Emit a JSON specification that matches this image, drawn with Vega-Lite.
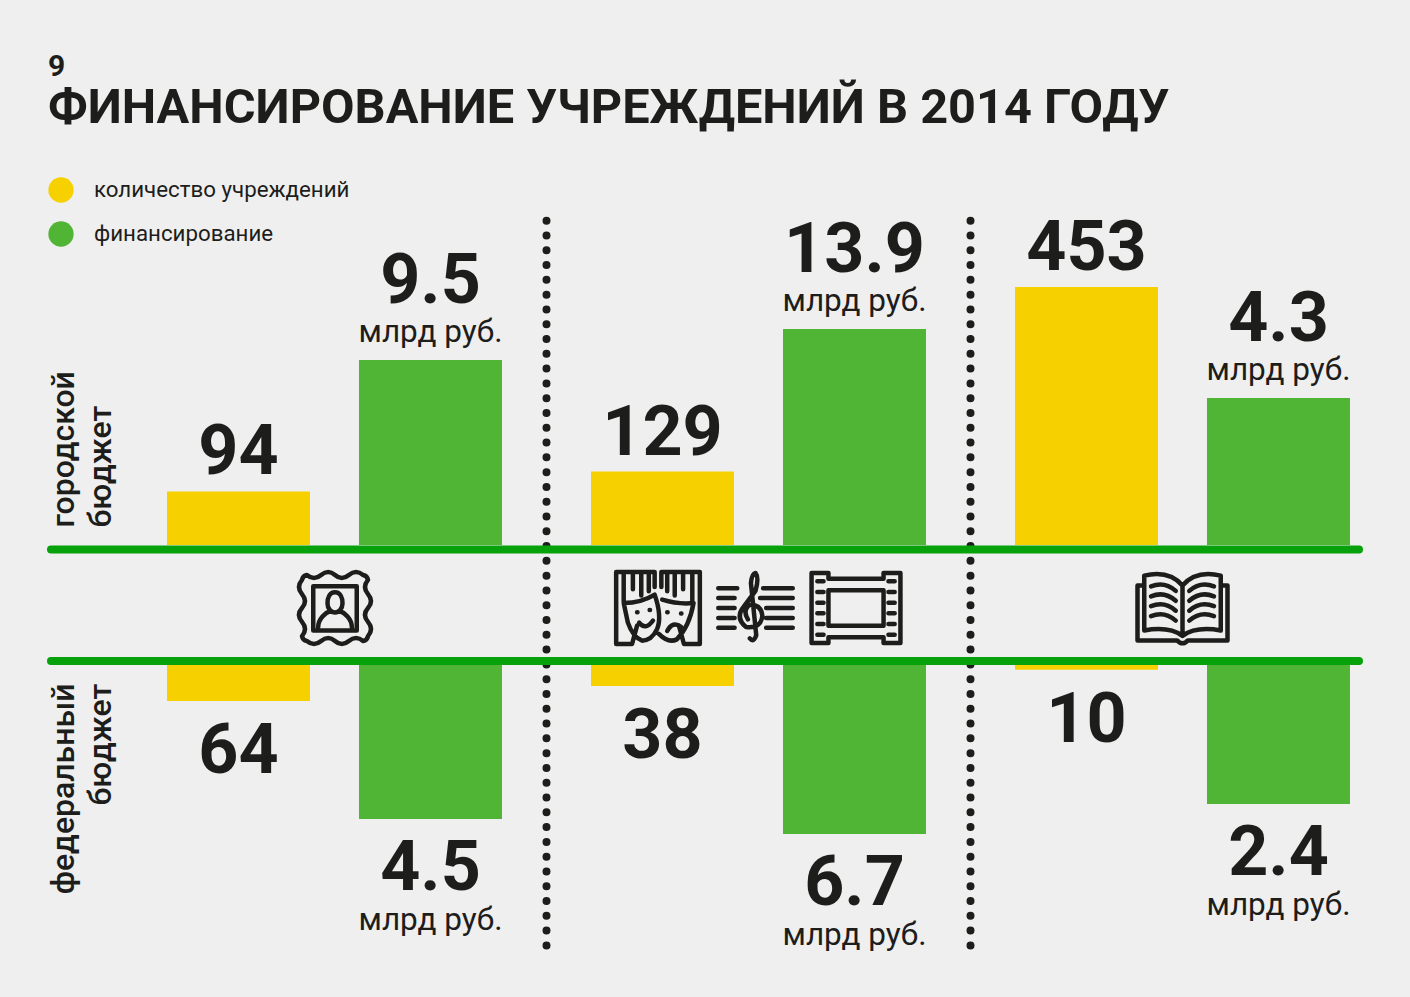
{
"$schema":"https://vega.github.io/schema/vega-lite/v6.json",
"width":1410,"height":857,
"autosize":{"type":"none"},
"padding":{"left":0,"top":140,"right":0,"bottom":0},
"background":"#efefef",
"config":{"view":{"stroke":null},"font":"Roboto"},
"title":{"text":"9","subtitle":"ФИНАНСИРОВАНИЕ УЧРЕЖДЕНИЙ В 2014 ГОДУ","anchor":"start","frame":"group","dx":48,"offset":7,"font":"Roboto","fontSize":30,"fontWeight":"bold","color":"#1d1d1b","subtitleFont":"Roboto","subtitleFontSize":48.7,"subtitleFontWeight":"bold","subtitleColor":"#1d1d1b","subtitlePadding":3},
"datasets":{"rows":[
{"group":"museums","budget":"city","metric":"количество учреждений","value":94},
{"group":"museums","budget":"city","metric":"финансирование","value":9.5,"unit":"млрд руб."},
{"group":"performing","budget":"city","metric":"количество учреждений","value":129},
{"group":"performing","budget":"city","metric":"финансирование","value":13.9,"unit":"млрд руб."},
{"group":"libraries","budget":"city","metric":"количество учреждений","value":453},
{"group":"libraries","budget":"city","metric":"финансирование","value":4.3,"unit":"млрд руб."},
{"group":"museums","budget":"federal","metric":"количество учреждений","value":64},
{"group":"museums","budget":"federal","metric":"финансирование","value":4.5,"unit":"млрд руб."},
{"group":"performing","budget":"federal","metric":"количество учреждений","value":38},
{"group":"performing","budget":"federal","metric":"финансирование","value":6.7,"unit":"млрд руб."},
{"group":"libraries","budget":"federal","metric":"количество учреждений","value":10},
{"group":"libraries","budget":"federal","metric":"финансирование","value":2.4,"unit":"млрд руб."}
]},
"resolve":{"scale":{"x":"independent","y":"independent"}},
"layer":[
{"data":{"name":"rows"},"transform":[{"filter":"datum.budget==='city'&&datum.metric==='количество учреждений'"}],
 "encoding":{
  "x":{"field":"group","type":"nominal","axis":null,"scale":{"domain":["museums","performing","libraries"],"range":[122.5,1394.5],"padding":0}},
  "xOffset":{"field":"metric","type":"nominal","scale":{"domain":["количество учреждений","финансирование"],"paddingInner":0.2552,"paddingOuter":0.2318}},
  "y":{"field":"value","type":"quantitative","scale":{"domain":[0,453],"range":[405,147]},"axis":{"orient":"left","domain":false,"ticks":false,"labels":false,"grid":false,"title":["городской","бюджет"],"titleFont":"Roboto","titleFontSize":32,"titleFontWeight":500,"titleColor":"#1d1d1b","titleAngle":270,"titleAlign":"left","titleBaseline":"alphabetic","titleLineHeight":36.5,"titleX":73.5,"titleY":387}}
 },
 "layer":[
  {"mark":{"type":"bar"},"encoding":{"y2":{"datum":0},"color":{"field":"metric","type":"nominal","scale":{"domain":["количество учреждений","финансирование"],"range":["#f7d000","#50b535"]},"legend":{"orient":"none","legendX":48,"legendY":37,"title":null,"symbolType":"circle","symbolSize":640,"labelFont":"Roboto","labelFontSize":22.3,"labelColor":"#1d1d1b","labelOffset":20,"labelLimit":400,"rowPadding":18,"symbolStrokeWidth":0}}}},
  {"mark":{"type":"text","fontSize":70,"fontWeight":"bold","color":"#1d1d1b","baseline":"alphabetic","dy":-17},"encoding":{"text":{"field":"value","type":"quantitative","format":"d"}}}
 ]},
{"data":{"name":"rows"},"transform":[{"filter":"datum.budget==='city'&&datum.metric==='финансирование'"}],
 "encoding":{
  "x":{"field":"group","type":"nominal","axis":null,"scale":{"domain":["museums","performing","libraries"],"range":[122.5,1394.5],"padding":0}},
  "xOffset":{"field":"metric","type":"nominal","scale":{"domain":["количество учреждений","финансирование"],"paddingInner":0.2552,"paddingOuter":0.2318}},
  "y":{"field":"value","type":"quantitative","axis":null,"scale":{"domain":[0,4.3,9.5,13.9],"range":[405,258,220,189]}}
 },
 "layer":[
  {"mark":{"type":"bar"},"encoding":{"y2":{"datum":0},"color":{"field":"metric","type":"nominal","scale":{"domain":["количество учреждений","финансирование"],"range":["#f7d000","#50b535"]}}}},
  {"mark":{"type":"text","fontSize":70,"fontWeight":"bold","color":"#1d1d1b","baseline":"alphabetic","dy":-57},"encoding":{"text":{"field":"value","type":"quantitative","format":".1f"}}},
  {"mark":{"type":"text","fontSize":31.5,"color":"#1d1d1b","baseline":"alphabetic","dy":-18},"encoding":{"text":{"field":"unit","type":"nominal"}}}
 ]},
{"data":{"name":"rows"},"transform":[{"filter":"datum.budget==='federal'&&datum.metric==='количество учреждений'"}],
 "encoding":{
  "x":{"field":"group","type":"nominal","axis":null,"scale":{"domain":["museums","performing","libraries"],"range":[122.5,1394.5],"padding":0}},
  "xOffset":{"field":"metric","type":"nominal","scale":{"domain":["количество учреждений","финансирование"],"paddingInner":0.2552,"paddingOuter":0.2318}},
  "y":{"field":"value","type":"quantitative","scale":{"domain":[0,64],"range":[524,561]},"axis":{"orient":"left","domain":false,"ticks":false,"labels":false,"grid":false,"title":["федеральный","бюджет"],"titleFont":"Roboto","titleFontSize":32,"titleFontWeight":500,"titleColor":"#1d1d1b","titleAngle":270,"titleAlign":"right","titleBaseline":"alphabetic","titleLineHeight":36.5,"titleX":73.5,"titleY":543}}
 },
 "layer":[
  {"mark":{"type":"bar"},"encoding":{"y2":{"datum":0},"color":{"field":"metric","type":"nominal","scale":{"domain":["количество учреждений","финансирование"],"range":["#f7d000","#50b535"]}}}},
  {"mark":{"type":"text","fontSize":70,"fontWeight":"bold","color":"#1d1d1b","baseline":"alphabetic","dy":72},"encoding":{"text":{"field":"value","type":"quantitative","format":"d"}}}
 ]},
{"data":{"name":"rows"},"transform":[{"filter":"datum.budget==='federal'&&datum.metric==='финансирование'"}],
 "encoding":{
  "x":{"field":"group","type":"nominal","axis":null,"scale":{"domain":["museums","performing","libraries"],"range":[122.5,1394.5],"padding":0}},
  "xOffset":{"field":"metric","type":"nominal","scale":{"domain":["количество учреждений","финансирование"],"paddingInner":0.2552,"paddingOuter":0.2318}},
  "y":{"field":"value","type":"quantitative","axis":null,"scale":{"domain":[0,2.4,4.5,6.7],"range":[524,664,679,694]}}
 },
 "layer":[
  {"mark":{"type":"bar"},"encoding":{"y2":{"datum":0},"color":{"field":"metric","type":"nominal","scale":{"domain":["количество учреждений","финансирование"],"range":["#f7d000","#50b535"]}}}},
  {"mark":{"type":"text","fontSize":70,"fontWeight":"bold","color":"#1d1d1b","baseline":"alphabetic","dy":71},"encoding":{"text":{"field":"value","type":"quantitative","format":".1f"}}},
  {"mark":{"type":"text","fontSize":31.5,"color":"#1d1d1b","baseline":"alphabetic","dy":111},"encoding":{"text":{"field":"unit","type":"nominal"}}}
 ]},
{"data":{"values":[{"group":"museums"},{"group":"performing"}]},
 "mark":{"type":"rule","color":"#1d1d1b","strokeWidth":8,"strokeCap":"round","strokeDash":[0,14.79]},
 "encoding":{
  "x":{"field":"group","type":"nominal","bandPosition":1,"axis":null,"scale":{"type":"band","domain":["museums","performing","libraries"],"range":[122.5,1394.5],"padding":0}},
  "y":{"datum":0,"type":"quantitative","axis":null,"scale":{"domain":[0,1],"range":[80.7,806]}},
  "y2":{"datum":1}
 }},
{"data":{"values":[{"row":"city"},{"row":"federal"}]},
 "mark":{"type":"rule","color":"#06a10b","strokeWidth":8,"strokeCap":"round"},
 "encoding":{
  "x":{"datum":0,"type":"quantitative","axis":null,"scale":{"domain":[0,1],"range":[51,1359]}},
  "x2":{"datum":1},
  "y":{"field":"row","type":"nominal","axis":null,"scale":{"type":"point","domain":["city","icons","federal"],"range":[409.5,521],"padding":0}}
 }},
{"data":{"values":[{"group":"museums","row":"icons","icon":"painting"},{"group":"performing","row":"icons","icon":"theatre"},{"group":"performing","row":"icons","icon":"music"},{"group":"performing","row":"icons","icon":"film"},{"group":"libraries","row":"icons","icon":"book"}]},
 "encoding":{
  "x":{"field":"group","type":"nominal","axis":null,"scale":{"type":"band","domain":["museums","performing","libraries"],"range":[122.5,1394.5],"padding":0}},
  "y":{"field":"row","type":"nominal","axis":null,"scale":{"type":"point","domain":["city","icons","federal"],"range":[409.5,521],"padding":0}}
 },
 "layer":[
  {"transform":[{"filter":"datum.icon==='painting'"}],"mark":{"type":"point","filled":false,"opacity":1,"stroke":"#1d1d1b","strokeWidth":4.5,"strokeCap":"round","strokeJoin":"round","size":5625,"xOffset":0.5,"yOffset":2.75,"shape":"M-.75,-.88Q-.56,-.72-.37,-.88T0,-.88T.37,-.88T.75,-.88A.16,.16 0 0 1 .88,-.75Q.72,-.56 .88,-.37T.88,0T.88,.37T.88,.75A.16,.16 0 0 1 .75,.88Q.56,.72 .37,.88T0,.88T-.37,.88T-.75,.88A.16,.16 0 0 1 -.88,.75Q-.72,.56 -.88,.37T-.88,0T-.88,-.37T-.88,-.75A.16,.16 0 0 1 -.75,-.88ZM-.58,-.58H.58V.6H-.58ZM0,-.42C.14,-.42 .2,-.28 .2,-.12C.2,.02 .1,.12 0,.12C-.1,.12 -.2,.02 -.2,-.12C-.2,-.28 -.14,-.42 0,-.42ZM-.45,.52C-.45,.28 -.25,.12 -.12,.08M.45,.52C.45,.28 .25,.12 .12,.08"}},
  {"transform":[{"filter":"datum.icon==='theatre'"}],"mark":{"type":"point","filled":false,"opacity":1,"stroke":"#1d1d1b","strokeWidth":4.5,"strokeCap":"round","strokeJoin":"round","size":7000,"xOffset":-100.5,"yOffset":2.75,"shape":"M-.08,-.86H-1V.86H-.62L-.5,.42M-.08,-.86V-.5M.08,-.86H1V.86H.62L.5,.42M.08,-.86V-.5M-.82,-.86V-.15M-.6,-.86V-.45M-.4,-.86V-.3M-.22,-.86V-.4M.82,-.86V-.15M.6,-.86V-.45M.4,-.86V-.3M.22,-.86V-.4M-.82,-.12Q-.4,-.12 -.08,-.32Q.1,.2 -.02,.5Q-.15,.78 -.38,.78Q-.6,.7 -.72,.35ZM.1,-.2Q.5,-.08 .85,-.12Q.75,.45 .45,.75Q.25,.85 .02,.62M-.5,.1h.01M-.2,.05h.01M-.45,.35Q-.3,.55 -.12,.3M.22,.1h.01M.55,.13h.01M.22,.55Q.35,.3 .55,.45"}},
  {"transform":[{"filter":"datum.icon==='music'"}],"mark":{"type":"point","filled":false,"opacity":1,"stroke":"#1d1d1b","strokeWidth":4.5,"strokeCap":"round","strokeJoin":"round","size":5776,"xOffset":-3,"yOffset":2.75,"shape":"M-.98,-.52H-.48M-.98,-.26H-.55M-.98,0H-.55M-.98,.26H-.55M-.98,.52H-.55M.2,-.52H.98M.12,-.26H.98M.28,0H.98M.28,.26H.98M.28,.52H.98M-.15,.8Q-.05,.92 .02,.72L-.12,-.65Q-.1,-.9 0,-.92Q.1,-.8 0,-.45L-.3,-.05Q-.55,.25 -.25,.5Q.15,.55 .18,.2Q.15,-.1 -.15,-.08Q-.35,.05 -.2,.3"}},
  {"transform":[{"filter":"datum.icon==='film'"}],"mark":{"type":"point","filled":false,"opacity":1,"stroke":"#1d1d1b","strokeWidth":4.5,"strokeCap":"round","strokeJoin":"round","size":7900,"xOffset":97.5,"yOffset":2.75,"shape":"M-1,-.79H-.62V-.66H.62V-.79H1V.79H.62V.66H-.62V.79H-1ZM-.62,-.4H.62V.4H-.62ZM-.87,-.6H-.73M-.87,-.36H-.73M-.87,-.12H-.73M-.87,.12H-.73M-.87,.36H-.73M-.87,.6H-.73M.87,-.6H.73M.87,-.36H.73M.87,-.12H.73M.87,.12H.73M.87,.36H.73M.87,.6H.73"}},
  {"transform":[{"filter":"datum.icon==='book'"}],"mark":{"type":"point","filled":false,"opacity":1,"stroke":"#1d1d1b","strokeWidth":4.5,"strokeCap":"round","strokeJoin":"round","size":8100,"yOffset":2.75,"shape":"M-.85,-.5H-1V.72H-.12Q0,.85 .12,.72H1V-.5H.85M0,-.5Q-.3,-.85 -.85,-.72V.5Q-.3,.4 0,.62Q.3,.4 .85,.5V-.72Q.3,-.85 0,-.5V.62M-.7,-.48Q-.4,-.6 -.15,-.38M-.7,-.26Q-.4,-.38 -.15,-.16M-.7,-.04Q-.4,-.16 -.15,.06M-.7,.18Q-.4,.06 -.15,.28M.7,-.48Q.4,-.6 .15,-.38M.7,-.26Q.4,-.38 .15,-.16M.7,-.04Q.4,-.16 .15,.06M.7,.18Q.4,.06 .15,.28"}}
 ]}
]
}
